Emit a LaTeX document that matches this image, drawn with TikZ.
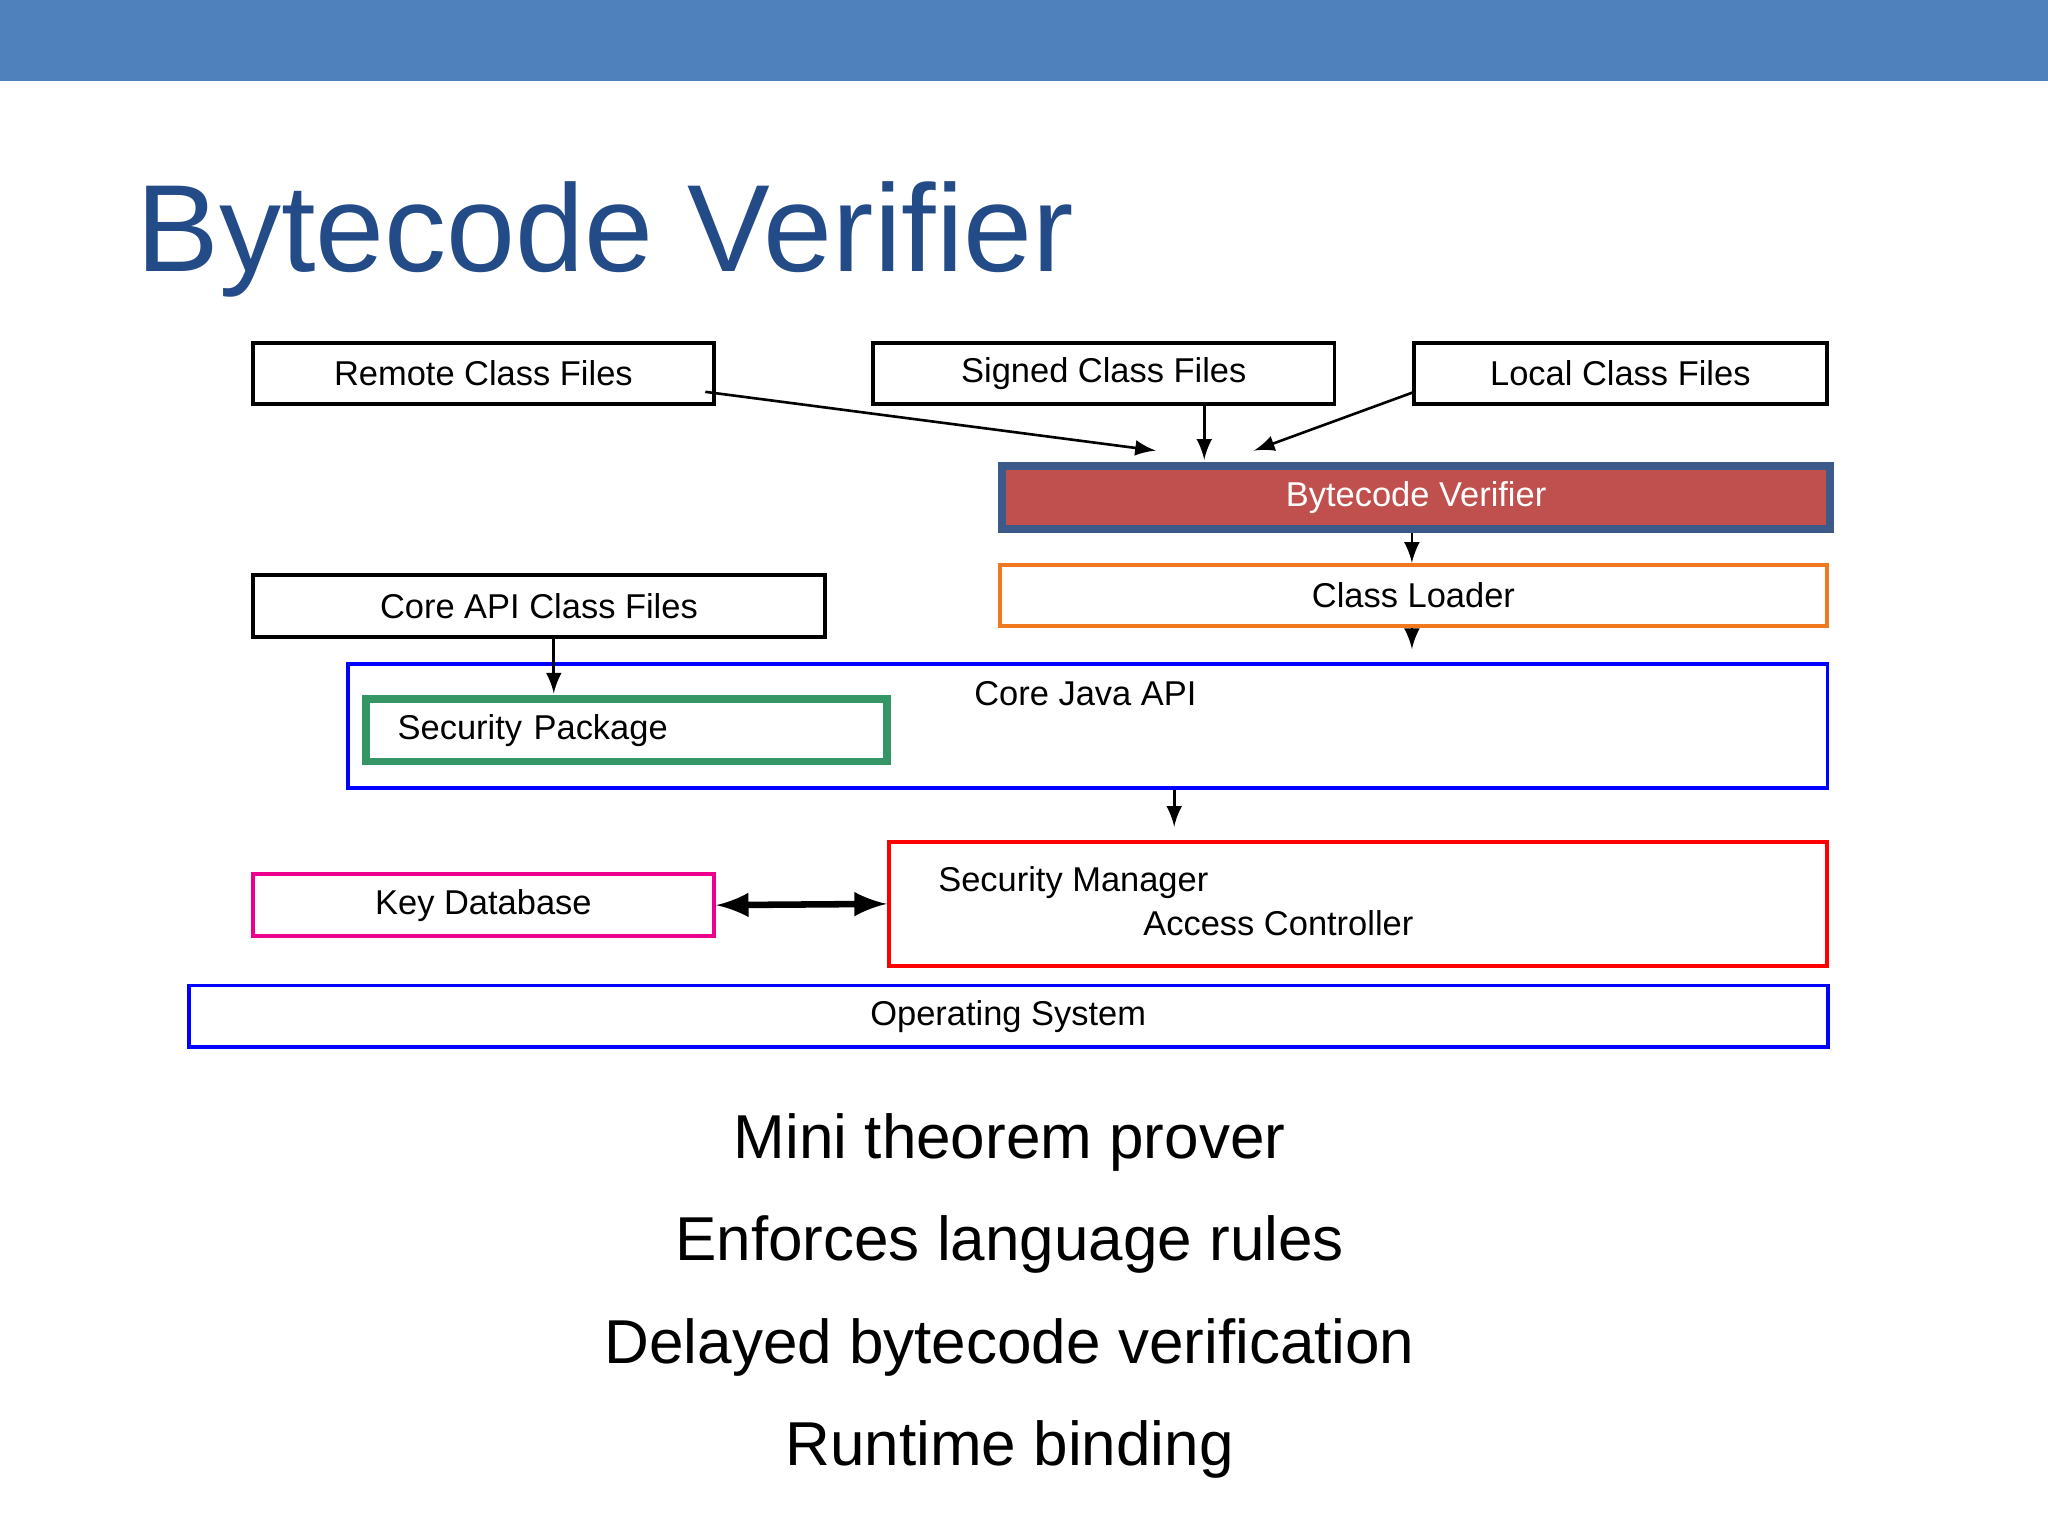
\documentclass[tikz,border=0pt]{standalone}
\usepackage{fontspec}
\setmainfont{Liberation Sans}
\usetikzlibrary{positioning}
\definecolor{band}{RGB}{79,129,189}
\definecolor{titleblue}{RGB}{35,75,135}
\definecolor{verif}{RGB}{192,80,77}
\definecolor{verifedge}{RGB}{59,90,138}
\definecolor{loader}{RGB}{240,120,30}
\definecolor{secpkg}{RGB}{51,150,100}
\tikzstyle{box} = [draw, line width=0.3mm, anchor=north west, inner sep=0pt, font=\fontsize{7.5}{9}\selectfont]
\tikzstyle{bullet} = [font=\fontsize{13.5}{16}\selectfont]

\begin{document}
\begin{tikzpicture}[x=0.01cm,y=-0.01cm,>=latex]
                        \useasboundingbox (0,0) rectangle (1568,1176);
                        \fill[band] (0,0) rectangle (1568,62);
                        \node[anchor=base west,text=titleblue,font=\fontsize{27}{30}\selectfont](title) at (92,208) {Bytecode Verifier};

                        \node[box,minimum width=3.53cm,minimum height=0.47cm](remote) at (192,261) {Remote Class Files};
                        \node[box,minimum width=3.53cm,minimum height=0.47cm](signed) at (667,261) {Signed Class Files};
                        \node[box,minimum width=3.16cm,minimum height=0.47cm](local) at (1081,261) {Local Class Files};
                        \node[box,draw=verifedge,fill=verif,text=white,line width=0.6mm,minimum width=6.34cm,minimum height=0.48cm](verifier) at (764,354) {Bytecode Verifier};
                        \node[box,draw=loader,minimum width=6.33cm,minimum height=0.47cm](loader) at (764,431) {Class Loader};
                        \node[box,minimum width=4.38cm,minimum height=0.47cm](coreapi) at (192,439) {Core API Class Files};
                        \node[box,draw=blue,minimum width=11.32cm,minimum height=0.95cm](corejava) at (265,507) {};
                        \node[font=\fontsize{7.5}{9}\selectfont](corejavalbl) at (831,531) {Core Java API};
                        \node[box,draw=secpkg,line width=0.6mm,minimum width=3.99cm,minimum height=0.48cm,text width=3.7cm,align=left](secpkg) at (277,532) {\hspace*{0.1cm}Security Package};
                        \node[box,draw=magenta,minimum width=3.53cm,minimum height=0.47cm](keydb) at (192,668) {Key Database};
                        \node[box,draw=red,minimum width=7.18cm,minimum height=0.95cm](secman) at (679,643) {};
                        \node[anchor=west,font=\fontsize{7.5}{9}\selectfont](smlbl) at (706,676) {Security Manager};
                        \node[anchor=west,font=\fontsize{7.5}{9}\selectfont](aclbl) at (863,707) {Access Controller};
                        \node[box,draw=blue,minimum width=12.54cm,minimum height=0.47cm](os) at (143,753) {Operating System};

                        \coordinate (remoteout) at (540,300);
                        \coordinate (remotein) at (885,345);
                        \coordinate (localout) at (1083,300);
                        \coordinate (localin) at (960,345);
                        \coordinate (loaderin) at (1081,497);
                        \coordinate (coreapiin) at (424,531);
                        \coordinate (secmanin) at (899,633);
                        \draw[->,line width=0.2mm](remoteout) -- (remotein);
                        \draw[->,line width=0.2mm](signed.south -| 922,0) -- (922,352);
                        \draw[->,line width=0.2mm](localout) -- (localin);
                        \draw[->,line width=0.2mm](verifier.south -| 1081,0) -- (loader.north -| 1081,0);
                        \draw[->,line width=0.2mm](loader.south -| 1081,0) -- (loaderin);
                        \draw[->,line width=0.2mm](coreapi.south -| coreapiin) -- (coreapiin);
                        \draw[->,line width=0.2mm](corejava.south -| secmanin) -- (secmanin);
                        \draw[<->,line width=0.5mm](keydb.east) -- (secman.west);

                        \node[bullet](b1) at (773,875) {Mini theorem prover};
                        \node[bullet](b2) at (773,953) {Enforces language rules};
                        \node[bullet](b3) at (773,1032) {Delayed bytecode verification};
                        \node[bullet](b4) at (773,1110) {Runtime binding};
                    \end{tikzpicture}
\end{document}
